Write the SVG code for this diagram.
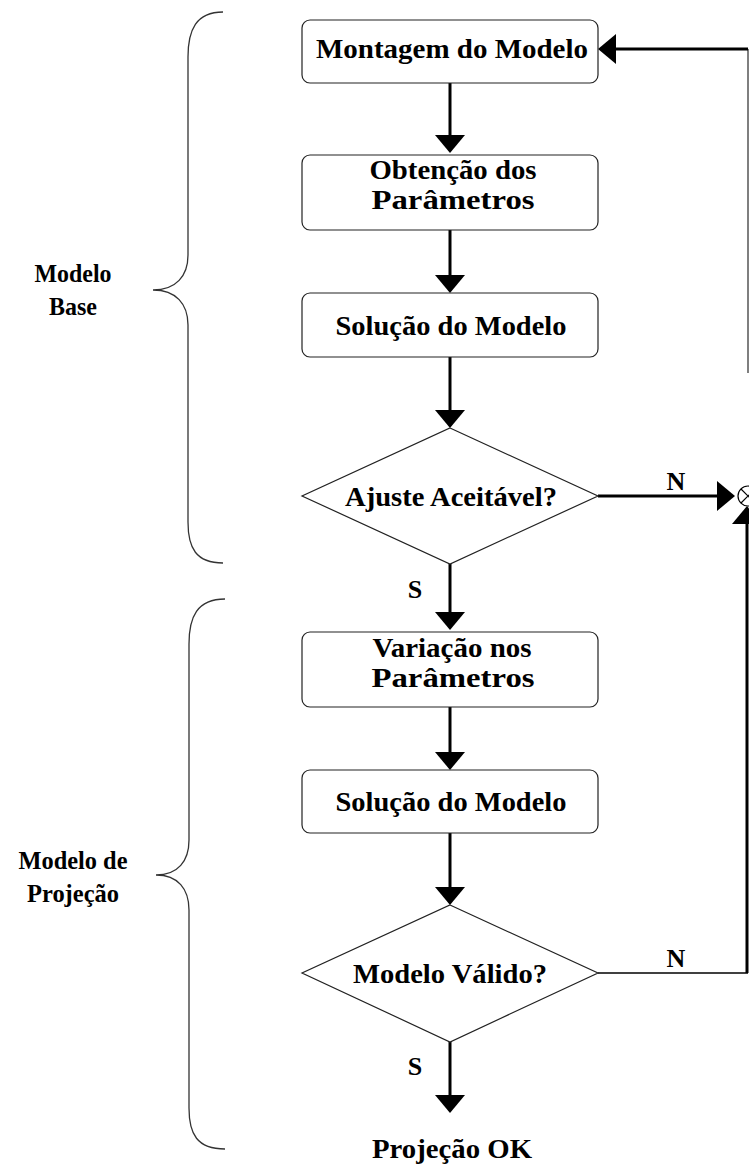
<svg xmlns="http://www.w3.org/2000/svg" width="749" height="1165" viewBox="0 0 749 1165">
<style>
.box{fill:#fff;stroke:#222;stroke-width:1.2}
.dia{fill:#fff;stroke:#222;stroke-width:1.2}
.t{font-family:"Liberation Serif","Times New Roman",serif;font-weight:bold;font-size:28px;fill:#000;text-anchor:middle}
.s{font-family:"Liberation Serif","Times New Roman",serif;font-weight:bold;font-size:25px;fill:#000;text-anchor:middle}
.lbl{font-family:"Liberation Serif","Times New Roman",serif;font-weight:bold;font-size:26px;fill:#000;text-anchor:middle}
.ar{fill:none;stroke:#000;stroke-width:3;marker-end:url(#ah)}
.brace{fill:none;stroke:#333;stroke-width:1.3}
</style>
<defs>
<marker id="ah" markerUnits="userSpaceOnUse" markerWidth="20" markerHeight="30" refX="6" refY="15" orient="auto" viewBox="0 0 20 30">
<path d="M0,0 L18,15 L0,30 Z" fill="#000"/>
</marker>
</defs>

<g id="brace-base">
<path class="brace" d="M223,12 C196,12 188,30 188,57 L188,255 C188,276 176,290 153,290 C176,290 188,304 188,325 L188,522 C188,548 196,563 223,563"/>
<text class="s" x="73" y="282" textLength="77" lengthAdjust="spacingAndGlyphs">Modelo</text>
<text class="s" x="73" y="315" textLength="48" lengthAdjust="spacingAndGlyphs">Base</text>
</g>
<g id="brace-proj">
<path class="brace" d="M225,599 C197,599 189,617 189,644 L189,840 C189,861 178,875 156,875 C178,875 189,889 189,910 L189,1108 C189,1134 197,1149 225,1149"/>
<text class="s" x="73" y="869" textLength="109" lengthAdjust="spacingAndGlyphs">Modelo de</text>
<text class="s" x="73" y="902" textLength="92" lengthAdjust="spacingAndGlyphs">Projeção</text>
</g>

<g id="connectors">
<path class="ar" d="M450,83 L450,141"/>
<path class="ar" d="M450,230 L450,281"/>
<path class="ar" d="M450,357 L450,416"/>
<path class="ar" d="M450,564 L450,618"/>
<path class="ar" d="M450,707 L450,758"/>
<path class="ar" d="M450,833 L450,893"/>
<path class="ar" d="M450,1042 L450,1101"/>
<path class="ar" d="M598,496 L723,496"/>
<line x1="598" y1="973" x2="748" y2="973" stroke="#000" stroke-width="1.5"/>
<path class="ar" d="M747,973 L747,518"/>
<line x1="748" y1="49" x2="748" y2="373" stroke="#555" stroke-width="1.5"/>
<path class="ar" d="M748,49 L610,49"/>
<text class="lbl" x="676" y="490">N</text>
<text class="lbl" x="676" y="967">N</text>
<text class="lbl" x="415" y="598">S</text>
<text class="lbl" x="415" y="1075">S</text>
</g>

<g id="junction">
<circle cx="748" cy="496" r="10" fill="#fff" stroke="#000" stroke-width="1.2"/>
<path d="M741,489 L755,503 M741,503 L755,489" stroke="#000" stroke-width="1.2"/>
</g>

<g id="n1">
<rect class="box" x="302" y="20" width="296" height="63" rx="8"/>
<text class="t" x="452" y="58" textLength="272" lengthAdjust="spacingAndGlyphs">Montagem do Modelo</text>
</g>
<g id="n2">
<rect class="box" x="302" y="155" width="296" height="75" rx="8"/>
<text class="t" x="453" y="179" textLength="167" lengthAdjust="spacingAndGlyphs">Obtenção dos</text>
<text class="t" x="453" y="209" textLength="163" lengthAdjust="spacingAndGlyphs">Parâmetros</text>
</g>
<g id="n3">
<rect class="box" x="302" y="293" width="296" height="64" rx="8"/>
<text class="t" x="451" y="335" textLength="231" lengthAdjust="spacingAndGlyphs">Solução do Modelo</text>
</g>
<g id="n4">
<polygon class="dia" points="450,428 598,496 450,564 302,496"/>
<text class="t" x="451" y="506" textLength="212" lengthAdjust="spacingAndGlyphs">Ajuste Aceitável?</text>
</g>
<g id="n5">
<rect class="box" x="302" y="632" width="296" height="75" rx="8"/>
<text class="t" x="452" y="657" textLength="159" lengthAdjust="spacingAndGlyphs">Variação nos</text>
<text class="t" x="453" y="687" textLength="163" lengthAdjust="spacingAndGlyphs">Parâmetros</text>
</g>
<g id="n6">
<rect class="box" x="302" y="770" width="296" height="63" rx="8"/>
<text class="t" x="451" y="811" textLength="231" lengthAdjust="spacingAndGlyphs">Solução do Modelo</text>
</g>
<g id="n7">
<polygon class="dia" points="450,905 598,973 450,1042 302,973"/>
<text class="t" x="450" y="983" textLength="194" lengthAdjust="spacingAndGlyphs">Modelo Válido?</text>
</g>
<g id="n8">
<text class="t" x="452" y="1158" textLength="160" lengthAdjust="spacingAndGlyphs">Projeção OK</text>
</g>
</svg>
